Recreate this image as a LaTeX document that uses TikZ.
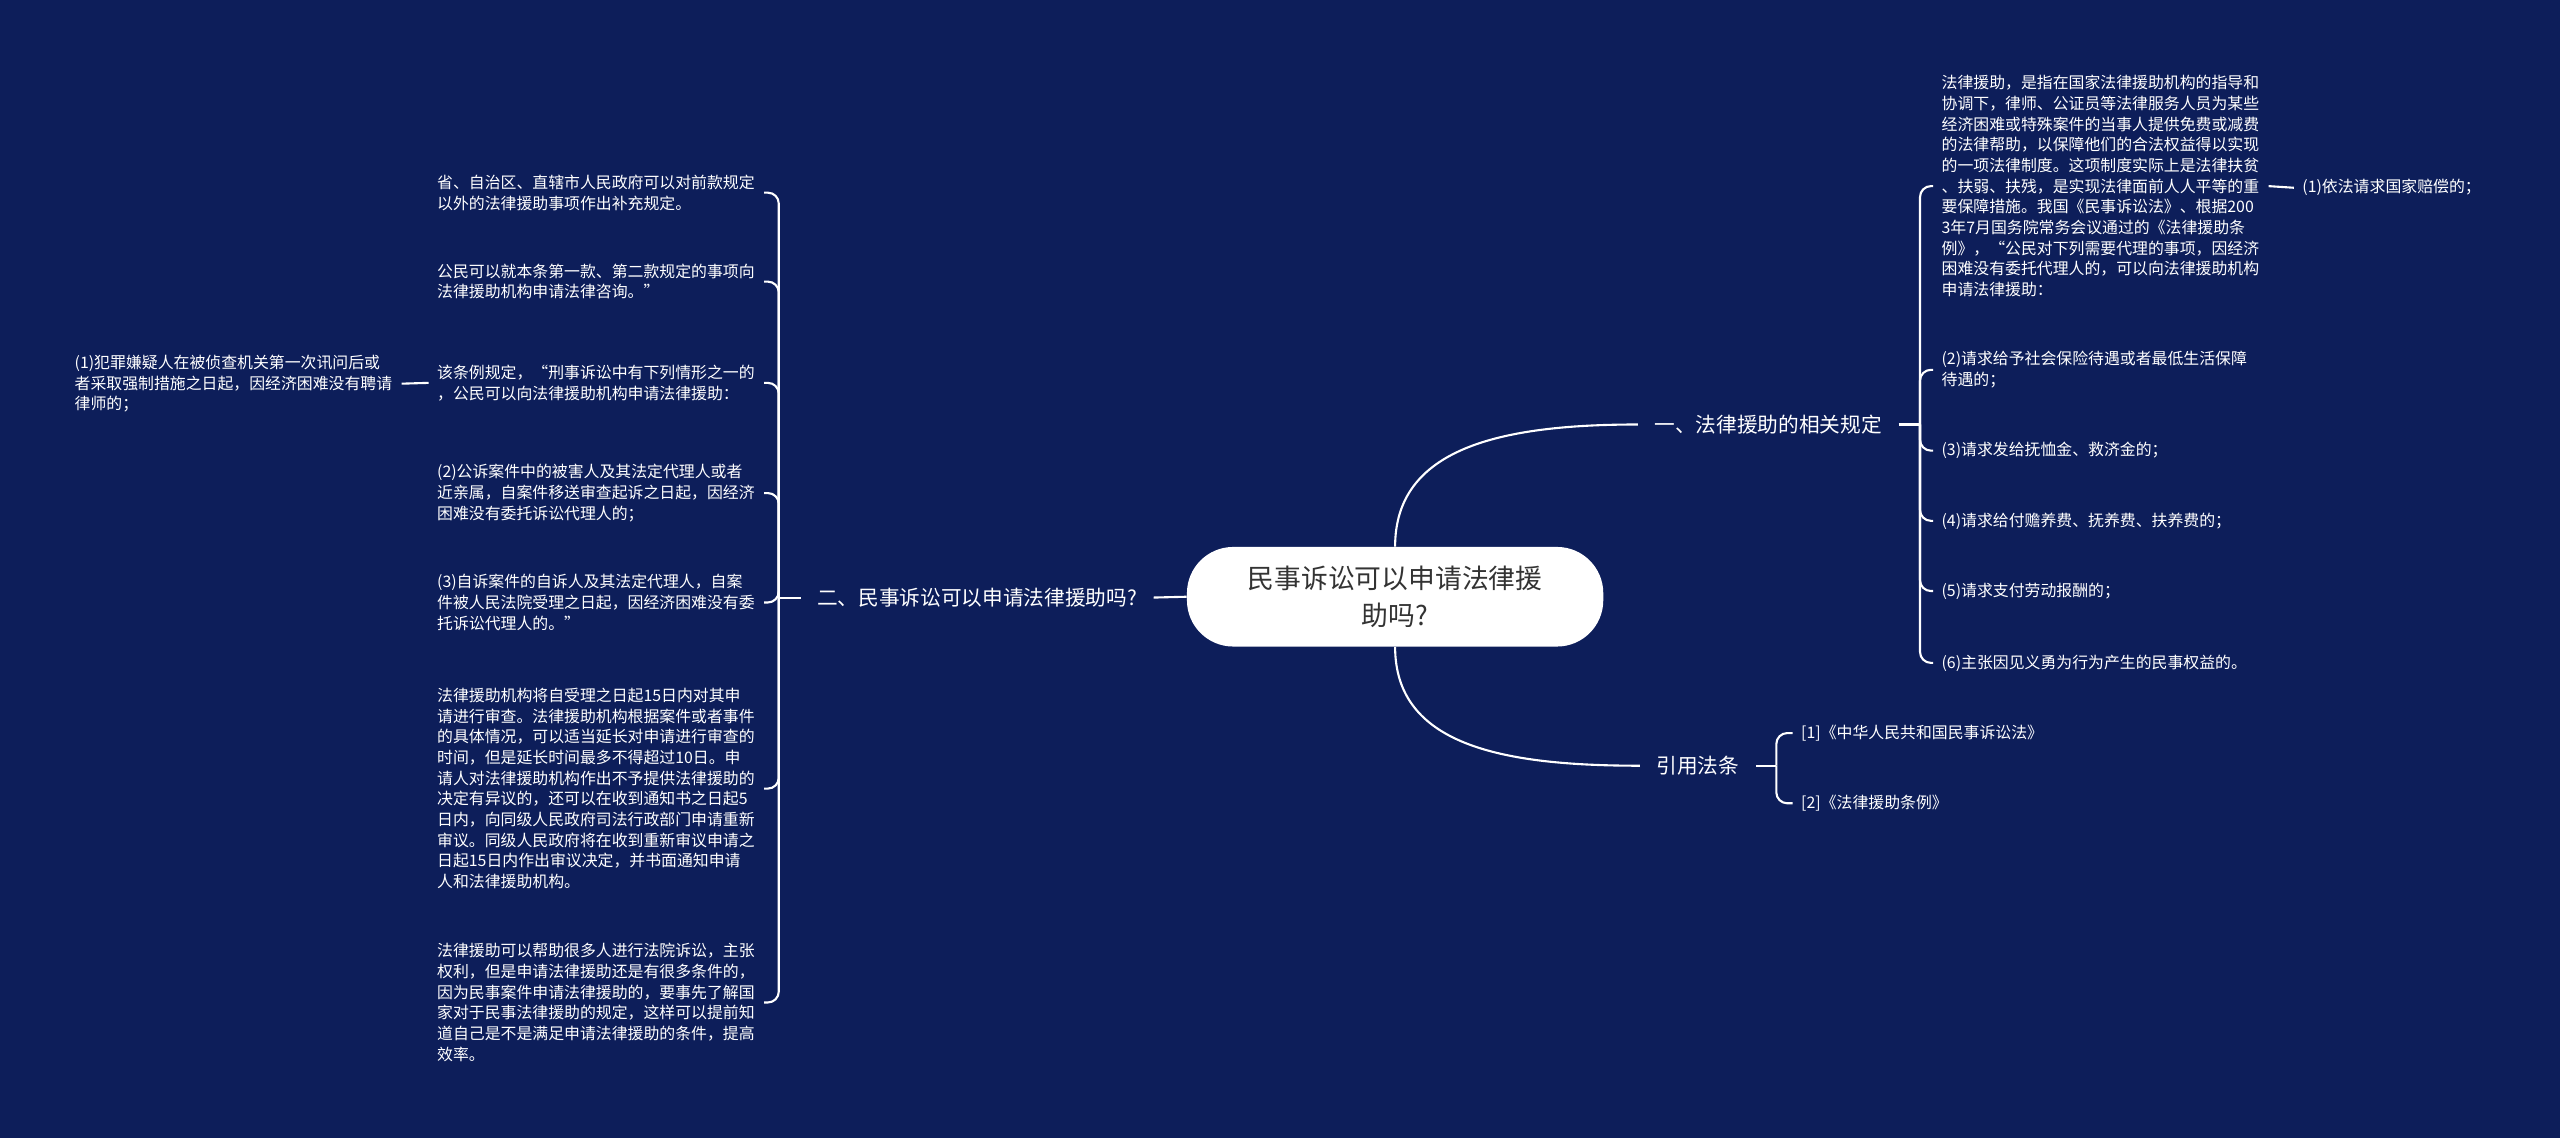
\documentclass[tikz,border=0pt]{standalone}
\usepackage{fontspec}
\setmainfont{Noto Sans CJK SC}
\usetikzlibrary{positioning}
\definecolor{navybg}{HTML}{0D1E5A}
\definecolor{rootink}{HTML}{333333}
\newcommand{\leaffont}{\fontsize{8.3}{10.8}\selectfont}
\newcommand{\branchfont}{\fontsize{10.8}{13}\selectfont}
\newcommand{\rootfont}{\fontsize{14}{19.6}\selectfont}

\begin{document}
\begin{tikzpicture}[
  x=0.03cm, y=-0.03cm,
  root/.style={fill=white, rounded corners=0.85cm, minimum width=7.65cm, minimum height=1.83cm, align=center, text=rootink, font=\rootfont, inner sep=0pt},
  branch/.style={text=white, font=\branchfont, inner xsep=0.3cm, inner ysep=2pt},
  leaf/.style={text=white, font=\leaffont, align=left, inner xsep=0.15cm, inner ysep=1pt},
  para/.style={leaf, text width=5.85cm},
  link/.style={draw=white, line width=1.1pt},
  hook/.style={link, rounded corners=0.2cm}
]
  \fill[navybg] (0,0) rectangle (1568,697);
  \useasboundingbox (0,0) rectangle (1568,697);

  % centre and first level
  \node[root] (mid) at (854.5,365.5) {民事诉讼可以申请法律援\\助吗?};
  \node[branch] (rules) at (1083,260) {一、法律援助的相关规定};
  \node[branch] (cite) at (1040,469) {引用法条};
  \node[branch] (civil) at (598.5,366) {二、民事诉讼可以申请法律援助吗?};

  \draw[link] (mid.north) .. controls +(0,-60) and +(-85,0) .. (rules.west);
  \draw[link] (mid.south) .. controls +(0,60) and +(-85,0) .. (cite.west);
  \draw[link] (mid.west) -- (civil.east);

  % right: rules
  \coordinate (hr) at (1176,260);
  \node[para, anchor=west] (def) at (1184,114) {法律援助，是指在国家法律援助机构的指导和\\协调下，律师、公证员等法律服务人员为某些\\经济困难或特殊案件的当事人提供免费或减费\\的法律帮助，以保障他们的合法权益得以实现\\的一项法律制度。这项制度实际上是法律扶贫\\、扶弱、扶残，是实现法律面前人人平等的重\\要保障措施。我国《民事诉讼法》、根据200\\3年7月国务院常务会议通过的《法律援助条\\例》，“公民对下列需要代理的事项，因经济\\困难没有委托代理人的，可以向法律援助机构\\申请法律援助：};
  \node[leaf, anchor=west] (r1) at (1405,115) {(1)依法请求国家赔偿的；};
  \node[leaf, anchor=west] (r2) at (1184,226.5) {(2)请求给予社会保险待遇或者最低生活保障\\待遇的；};
  \node[leaf, anchor=west] (r3) at (1184,276) {(3)请求发给抚恤金、救济金的；};
  \node[leaf, anchor=west] (r4) at (1184,319) {(4)请求给付赡养费、抚养费、扶养费的；};
  \node[leaf, anchor=west] (r5) at (1184,362) {(5)请求支付劳动报酬的；};
  \node[leaf, anchor=west] (r6) at (1184,406) {(6)主张因见义勇为行为产生的民事权益的。};

  \draw[link] (rules.east) -- (hr);
  \foreach \k in {def,r2,r3,r4,r5,r6}
    \draw[hook] (hr) |- (\k.west);
  \draw[link] (def.east) -- (r1.west);

  % right: cited laws
  \coordinate (hc) at (1088,469);
  \node[leaf, anchor=west] (law1) at (1098,449) {[1]《中华人民共和国民事诉讼法》};
  \node[leaf, anchor=west] (law2) at (1098,492) {[2]《法律援助条例》};
  \draw[link] (cite.east) -- (hc);
  \foreach \k in {law1,law2}
    \draw[hook] (hc) |- (\k.west);

  % left: civil suits
  \coordinate (hl) at (477,366);
  \node[para, anchor=east] (l1) at (468,118) {省、自治区、直辖市人民政府可以对前款规定\\以外的法律援助事项作出补充规定。};
  \node[para, anchor=east] (l2) at (468,172.5) {公民可以就本条第一款、第二款规定的事项向\\法律援助机构申请法律咨询。”};
  \node[para, anchor=east] (l3) at (468,234.5) {该条例规定，“刑事诉讼中有下列情形之一的\\，公民可以向法律援助机构申请法律援助：};
  \node[para, anchor=east] (l4) at (468,302) {(2)公诉案件中的被害人及其法定代理人或者\\近亲属，自案件移送审查起诉之日起，因经济\\困难没有委托诉讼代理人的；};
  \node[para, anchor=east] (l5) at (468,369) {(3)自诉案件的自诉人及其法定代理人，自案\\件被人民法院受理之日起，因经济困难没有委\\托诉讼代理人的。”};
  \node[para, anchor=east] (l6) at (468,483) {法律援助机构将自受理之日起15日内对其申\\请进行审查。法律援助机构根据案件或者事件\\的具体情况，可以适当延长对申请进行审查的\\时间，但是延长时间最多不得超过10日。申\\请人对法律援助机构作出不予提供法律援助的\\决定有异议的，还可以在收到通知书之日起5\\日内，向同级人民政府司法行政部门申请重新\\审议。同级人民政府将在收到重新审议申请之\\日起15日内作出审议决定，并书面通知申请\\人和法律援助机构。};
  \node[para, anchor=east] (l7) at (468,614) {法律援助可以帮助很多人进行法院诉讼，主张\\权利，但是申请法律援助还是有很多条件的，\\因为民事案件申请法律援助的，要事先了解国\\家对于民事法律援助的规定，这样可以提前知\\道自己是不是满足申请法律援助的条件，提高\\效率。};
  \node[para, anchor=east] (l3a) at (246,235) {(1)犯罪嫌疑人在被侦查机关第一次讯问后或\\者采取强制措施之日起，因经济困难没有聘请\\律师的；};

  \draw[link] (civil.west) -- (hl);
  \foreach \k in {l1,l2,l3,l4,l5,l6,l7}
    \draw[hook] (hl) |- (\k.east);
  \draw[link] (l3.west) -- (l3a.east);
\end{tikzpicture}
\end{document}
